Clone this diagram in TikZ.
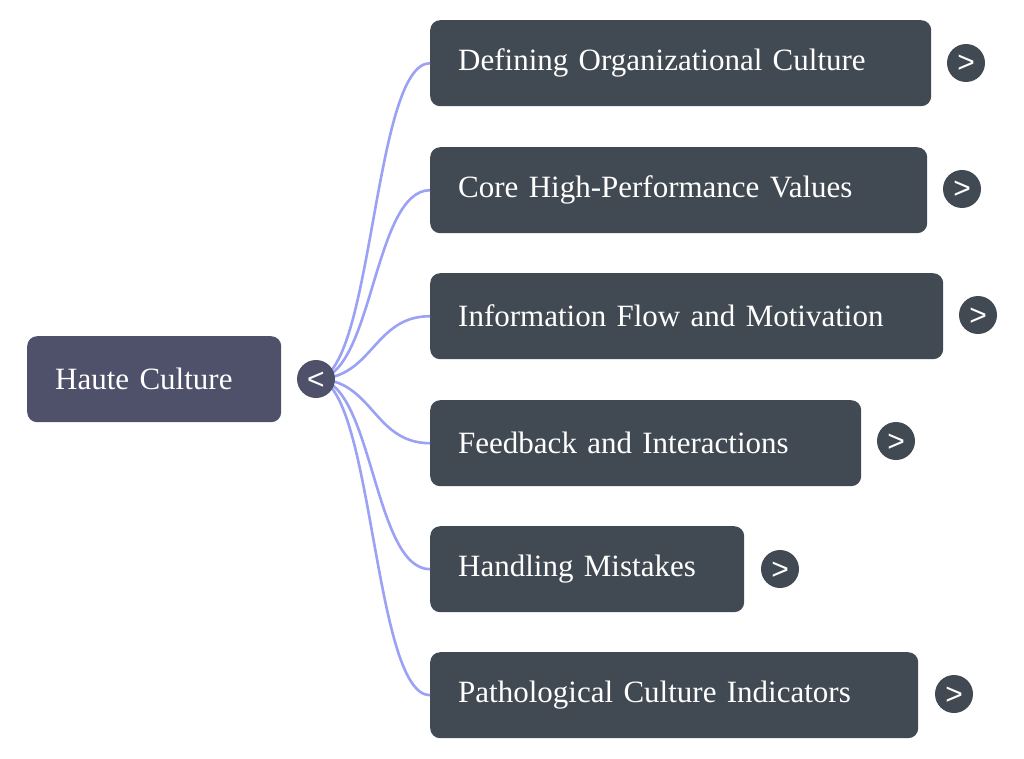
\documentclass[tikz,border=0pt]{standalone}
\usepackage{fontspec}
\setmainfont{Liberation Serif}[WordSpace=0.8]
\newfontfamily\togglefont{Liberation Sans}
\definecolor{rootfill}{HTML}{4F5069}
\definecolor{childfill}{HTML}{414A52}
\definecolor{edgecol}{HTML}{9BA1F5}
\begin{document}
\begin{tikzpicture}[x=1pt,y=-1pt,
  box/.style={draw=none, rounded corners=10pt, text=white, font=\fontsize{31}{34}\selectfont,
    minimum height=86pt, inner xsep=28pt, inner ysep=0pt, align=left, anchor=north west},
  rootbox/.style={box, fill=rootfill},
  childbox/.style={box, fill=childfill},
  toggle/.style={circle, minimum size=38pt, inner sep=0pt},
  glyph/.style={anchor=base, inner sep=0pt, text=white, font=\togglefont\fontsize{30}{30}\selectfont},
  link/.style={draw=edgecol, line width=2.6pt}
]
\useasboundingbox (0,0) rectangle (1024,759);
\fill[white] (0,0) rectangle (1024,759);

% root
\node[rootbox, text width=198pt, minimum width=254pt] (root) at (27,336) {Haute Culture};
\coordinate (rc) at (316,379);

% children
\node[childbox, text width=445pt, minimum width=501pt] (c1) at (430,20) {Defining Organizational Culture};
\node[childbox, text width=441pt, minimum width=497pt] (c2) at (430,147) {Core High-Performance Values};
\node[childbox, text width=457pt, minimum width=513pt] (c3) at (430,273) {Information Flow and Motivation};
\node[childbox, text width=375pt, minimum width=431pt] (c4) at (430,400) {Feedback and Interactions};
\node[childbox, text width=258pt, minimum width=314pt] (c5) at (430,526) {Handling Mistakes};
\node[childbox, text width=432pt, minimum width=488pt] (c6) at (430,652) {Pathological Culture Indicators};

% links
\foreach \c in {c1,c2,c3,c4,c5,c6}{
  \path[link] (rc) .. controls ([xshift=57pt]rc) and ([xshift=-57pt]\c.west) .. (\c.west);
}

% toggles
\node[toggle, fill=rootfill] (t0) at (rc) {};
\node[toggle, fill=childfill] (t1) at (966,63) {};
\node[toggle, fill=childfill] (t2) at (962,189) {};
\node[toggle, fill=childfill] (t3) at (978,315) {};
\node[toggle, fill=childfill] (t4) at (896,441) {};
\node[toggle, fill=childfill] (t5) at (780,569) {};
\node[toggle, fill=childfill] (t6) at (954,694) {};
\node[glyph] (g0) at ([yshift=-10pt]t0.center) {<};
\foreach \i in {1,...,6}{
  \node[glyph] (g\i) at ([yshift=-10pt]t\i.center) {>};
}
\end{tikzpicture}
\end{document}
